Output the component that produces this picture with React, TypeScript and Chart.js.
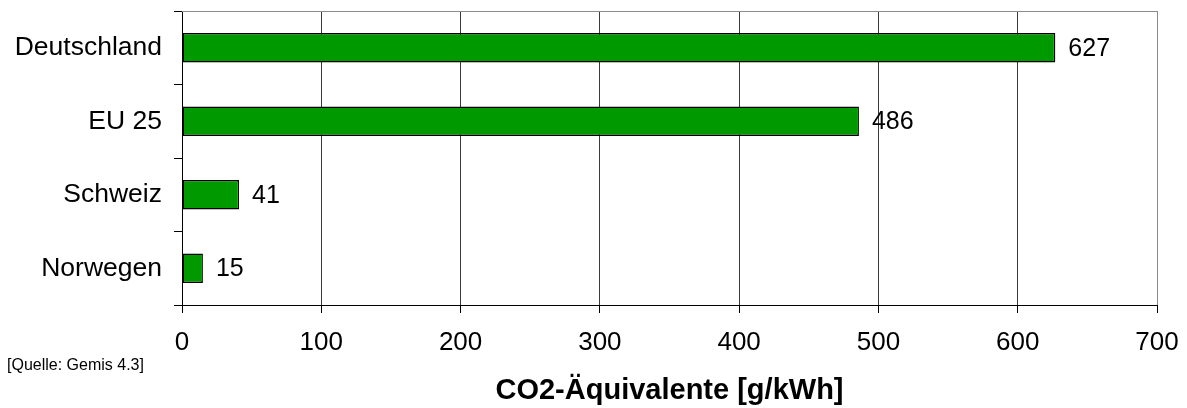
import React, { useEffect, useRef } from "react";
import { Chart, registerables } from "chart.js";

Chart.register(...registerables);

const categories = ["Deutschland", "EU 25", "Schweiz", "Norwegen"];
const values = [627, 486, 41, 15];
const xTicks = [0, 100, 200, 300, 400, 500, 600, 700];
const axisTitle = "CO2-Äquivalente [g/kWh]";
const sourceNote = "[Quelle: Gemis 4.3]";

const FONT = "'Liberation Sans', Arial, Helvetica, sans-serif";

export default function App() {
  const canvasRef = useRef<HTMLCanvasElement | null>(null);

  useEffect(() => {
    document.body.style.margin = "0";
    const canvas = canvasRef.current;
    if (!canvas) return;

    const extras = {
      id: "extras",
      beforeDatasetsDraw(chart: any) {
        const { ctx, chartArea } = chart;
        ctx.save();
        ctx.strokeStyle = "#8c8c8c";
        ctx.lineWidth = 1;
        ctx.beginPath();
        const t = Math.round(chartArea.top) + 0.5;
        ctx.moveTo(chartArea.left, t);
        ctx.lineTo(chartArea.right + 1, t);
        ctx.stroke();
        ctx.restore();
      },
      afterDatasetsDraw(chart: any) {
        const { ctx } = chart;
        const meta = chart.getDatasetMeta(0);
        ctx.save();
        ctx.fillStyle = "#000";
        ctx.font = `25px ${FONT}`;
        ctx.textAlign = "left";
        ctx.textBaseline = "middle";
        meta.data.forEach((bar: any, i: number) => {
          ctx.fillText(String(values[i]), bar.x + 13, bar.y + 1);
        });
        ctx.font = `16px ${FONT}`;
        ctx.fillText(sourceNote, 7, 366);
        ctx.restore();
      },
    };

    const chart = new Chart(canvas, {
      type: "bar",
      data: {
        labels: categories,
        datasets: [
          {
            data: values,
            backgroundColor: "#009900",
            borderColor: "#000000",
            borderWidth: 1.5,
            borderSkipped: false,
            categoryPercentage: 1,
            barPercentage: 0.4,
          },
        ],
      },
      plugins: [extras],
      options: {
        indexAxis: "y",
        responsive: false,
        animation: false,
        layout: { padding: { left: 0, right: 30, top: 11, bottom: 0 } },
        plugins: {
          legend: { display: false },
          tooltip: { enabled: false },
        },
        scales: {
          y: {
            type: "category",
            afterFit: (s: any) => {
              s.width = 182;
              s.paddingTop = 0;
              s.paddingBottom = 0;
            },
            grid: {
              offset: true,
              drawOnChartArea: false,
              tickLength: 8,
              color: "#000",
            },
            border: { display: true, color: "#000", width: 1 },
            ticks: {
              color: "#000",
              padding: 12,
              font: { family: FONT, size: 26.5 },
            },
          },
          x: {
            min: 0,
            max: 700,
            afterFit: (s: any) => {
              s.height = 103;
              s.paddingLeft = 0;
              s.paddingRight = 0;
            },
            afterBuildTicks: (s: any) => {
              s.ticks = xTicks.map((v) => ({ value: v }));
            },
            grid: {
              color: (c: any) => (c.tick && c.tick.value === 700 ? "#8c8c8c" : "#3a3a3a"),
              tickColor: "#000",
              tickLength: 8,
              lineWidth: 1,
            },
            border: { display: true, color: "#000", width: 1 },
            ticks: {
              color: "#000",
              padding: 14,
              font: { family: FONT, size: 26 },
            },
            title: {
              display: true,
              text: axisTitle,
              color: "#000",
              font: { family: FONT, size: 29, weight: "bold" },
              padding: { top: 0, bottom: 0 },
            },
          },
        },
      },
    } as any);

    return () => chart.destroy();
  }, []);

  return (
    <div style={{ width: 1187, height: 408 }}>
      <canvas ref={canvasRef} width={1187} height={408} />
    </div>
  );
}
